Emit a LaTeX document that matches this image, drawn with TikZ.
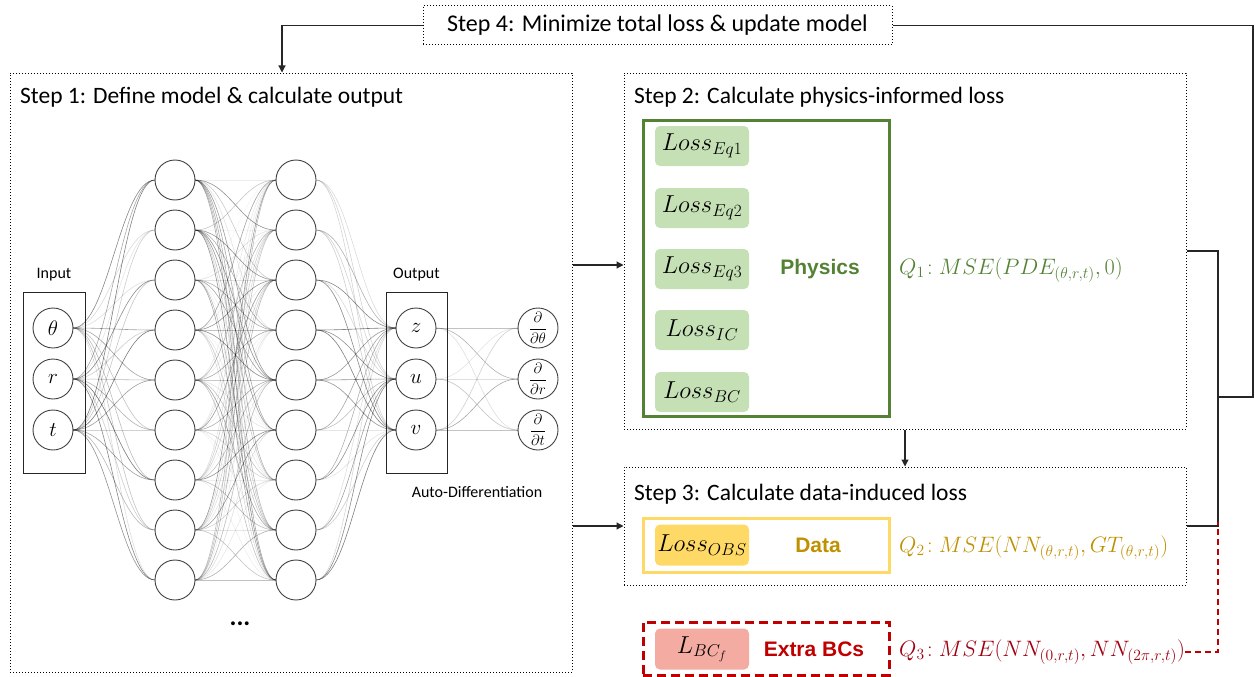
\documentclass[tikz,border=0pt]{standalone}
\usepackage{fix-cm}
\usepackage{fontspec}
\setmainfont{Carlito}
\newfontfamily\arialf{Liberation Sans}
\usetikzlibrary{arrows.meta,calc}
\definecolor{pgreen}{HTML}{548235}
\definecolor{pgreenfill}{HTML}{C5E0B4}
\definecolor{dyellow}{HTML}{FFD966}
\definecolor{dgold}{HTML}{BF9000}
\definecolor{dred}{HTML}{C00000}
\definecolor{qred}{HTML}{A00010}
\definecolor{redfill}{HTML}{F4ACA2}
\begin{document}
\begin{tikzpicture}[x=1pt,y=-1pt,
  stepbox/.style={draw, dotted, line width=1pt, inner sep=0pt},
  steptitle/.style={anchor=west, font=\fontsize{23.5}{26}\selectfont, inner sep=0pt},
  conn/.style={line width=1.2pt, draw=black!85},
  arr/.style={conn, -{Triangle[length=7pt,width=7pt]}},
  neuron/.style={circle, draw=black!75, line width=0.9pt, minimum size=40pt, inner sep=0pt, fill=white, font=\fontsize{21}{22}\selectfont},
  layerbox/.style={draw=black!85, line width=1pt, inner sep=0pt},
  small/.style={font=\fontsize{16}{18}\selectfont, inner sep=0pt},
  lossbox/.style={rounded corners=5pt, minimum width=94pt, minimum height=40pt, inner sep=0pt, font=\fontsize{24.5}{26}\selectfont},
  cat/.style={font=\arialf\bfseries\fontsize{21}{24}\selectfont, inner sep=0pt},
  qtext/.style={anchor=west, inner sep=0pt, font=\fontsize{22.3}{24}\selectfont},
  dnode/.style={neuron, font=\fontsize{15}{16}\selectfont},
  wire/.style={line width=0.6pt}
]
\useasboundingbox (0,0) rectangle (1255,677);

% step boxes
\node[stepbox, minimum width=562pt, minimum height=599pt] (s1) at (291,372.5) {};
\node[stepbox, minimum width=562pt, minimum height=356pt] (s2) at (905,251) {};
\node[stepbox, minimum width=562pt, minimum height=118pt] (s3) at (905,526) {};
\node[stepbox, minimum width=469pt, minimum height=39pt, font=\fontsize{24}{26}\selectfont] (s4) at (657.5,25.5) {Step 4: Minimize total loss \& update model};

\node[steptitle] (t1) at (20,97) {Step 1: Define model \& calculate output};
\node[steptitle] (t2) at (634,97) {Step 2: Calculate physics-informed loss};
\node[steptitle] (t3) at (634,494) {Step 3: Calculate data-induced loss};

% network
\node[layerbox, minimum width=62pt, minimum height=181pt] (inbox) at (54,382.5) {};
\node[layerbox, minimum width=61pt, minimum height=181pt] (outbox) at (416.5,382.5) {};
\node[small] (inlab) at (54,275) {Input};
\node[small] (outlab) at (416.5,275) {Output};
\node[small] (adlab) at (477,492) {Auto-Differentiation};

\pgfmathsetseed{7}
\foreach \i in {1,...,9}{
  \coordinate (h1c\i) at (175,{180+50*(\i-1)});
  \coordinate (h2c\i) at (296,{180+50*(\i-1)});
}
\foreach \k in {1,2,3}{
  \coordinate (inc\k) at (53,{328+51*(\k-1)});
  \coordinate (outc\k) at (416,{328+51*(\k-1)});
  \coordinate (dc\k) at (538,{328+51*(\k-1)});
}
\foreach \k in {1,2,3}{
  \foreach \i in {1,...,9}{
    \pgfmathsetmacro{\op}{0.08+0.45*rnd}
    \draw[wire, draw=black, draw opacity=\op] ($(inc\k)+(20,0)$) .. controls +(35,0) and +(-35,0) .. ($(h1c\i)+(-20,0)$);
    \pgfmathsetmacro{\op}{0.08+0.45*rnd}
    \draw[wire, draw=black, draw opacity=\op] ($(h2c\i)+(20,0)$) .. controls +(35,0) and +(-35,0) .. ($(outc\k)+(-20,0)$);
  }
}
\foreach \i in {1,...,9}{
  \foreach \j in {1,...,9}{
    \pgfmathsetmacro{\op}{0.04+0.4*rnd}
    \draw[wire, draw=black, draw opacity=\op] ($(h1c\i)+(20,0)$) .. controls +(35,0) and +(-35,0) .. ($(h2c\j)+(-20,0)$);
  }
}
\foreach \k in {1,2,3}{
  \foreach \m in {1,2,3}{
    \pgfmathsetmacro{\op}{0.1+0.3*rnd}
    \draw[wire, draw=black, draw opacity=\op] ($(outc\k)+(20,0)$) .. controls +(35,0) and +(-35,0) .. ($(dc\m)+(-20,0)$);
  }
}

\foreach \i in {1,...,9}{
  \node[neuron] (h1-\i) at (h1c\i) {};
  \node[neuron] (h2-\i) at (h2c\i) {};
}
\node[neuron] (in1) at (inc1) {$\theta$};
\node[neuron] (in2) at (inc2) {$r$};
\node[neuron] (in3) at (inc3) {$t$};
\node[neuron] (out1) at (outc1) {$z$};
\node[neuron] (out2) at (outc2) {$u$};
\node[neuron] (out3) at (outc3) {$v$};
\node[dnode] (d1) at (dc1) {$\displaystyle\frac{\partial}{\partial\theta}$};
\node[dnode] (d2) at (dc2) {$\displaystyle\frac{\partial}{\partial r}$};
\node[dnode] (d3) at (dc3) {$\displaystyle\frac{\partial}{\partial t}$};
\node[font=\bfseries\fontsize{26}{28}\selectfont, inner sep=0pt] (dots) at (240,624) {...};

% step 2 content
\node[draw=pgreen, line width=3pt, minimum width=246pt, minimum height=296pt, inner sep=0pt] (gbox) at (766,268) {};
\node[lossbox, fill=pgreenfill] (l1) at (702,146) {$Loss_{Eq1}$};
\node[lossbox, fill=pgreenfill] (l2) at (702,208) {$Loss_{Eq2}$};
\node[lossbox, fill=pgreenfill] (l3) at (702,269) {$Loss_{Eq3}$};
\node[lossbox, fill=pgreenfill] (l4) at (702,330) {$Loss_{IC}$};
\node[lossbox, fill=pgreenfill] (l5) at (702,392) {$Loss_{BC}$};
\node[cat, text=pgreen] (phys) at (820,269) {Physics};
\node[qtext, text=pgreen] (q1) at (899,270) {$Q_1\!: MSE(PDE_{(\theta,r,t)},0)$};

% step 3 content
\node[draw=dyellow, line width=3pt, minimum width=246pt, minimum height=54pt, inner sep=0pt] (ybox) at (766,545) {};
\node[lossbox, fill=dyellow, minimum height=41pt] (lobs) at (702,545) {$Loss_{OBS}$};
\node[cat, text=dgold] (data) at (818,545) {Data};
\node[qtext, text=dgold] (q2) at (899,548) {$Q_2\!: MSE(NN_{(\theta,r,t)},GT_{(\theta,r,t)})$};

% extra BCs
\node[draw=dred, dashed, dash pattern=on 9pt off 5pt, line width=3pt, minimum width=246pt, minimum height=53pt, inner sep=0pt] (rbox) at (766,648.5) {};
\node[lossbox, fill=redfill, minimum height=41pt] (lbcf) at (702,649) {$L_{BC_f}$};
\node[cat, text=dred] (extra) at (814,649) {Extra BCs};
\node[qtext, text=qred] (q3) at (899,652) {$Q_3\!: MSE(NN_{(0,r,t)},NN_{(2\pi,r,t)})$};

% connectors
\coordinate (vx) at (1218,0);
\coordinate (tr) at (1253,25.5);
\coordinate (jn) at (1218,397);
\draw[arr] (s4.west) -| ([xshift=-9pt]s1.north);
\draw[conn] (s4.east) -- (tr) |- (jn);
\draw[conn] (s2.east) -| (vx |- s3.east) -- (s3.east);
\draw[arr] (s1.east |- 0,265) -- (s2.west |- 0,265);
\draw[arr] (s1.east |- s3.west) -- (s3.west);
\draw[arr] (s2.south) -- (s3.north);
\draw[draw=dred, dashed, dash pattern=on 6pt off 4pt, line width=1.2pt] (q3.east) -| ([yshift=4pt]vx |- s3.east);
\end{tikzpicture}
\end{document}
